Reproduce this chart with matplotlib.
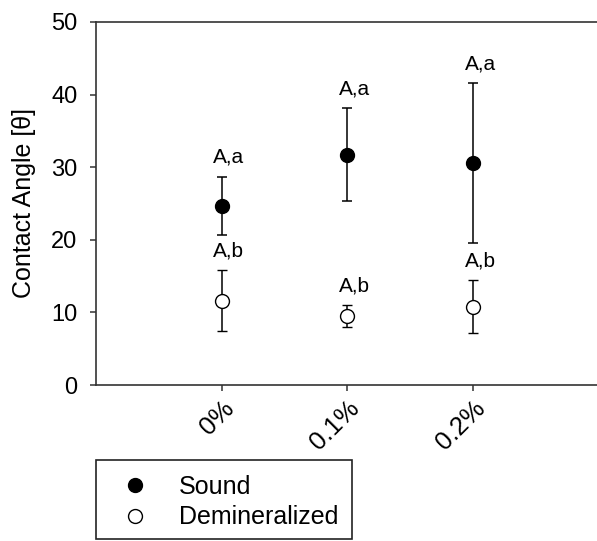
import numpy as np
import matplotlib
matplotlib.use("Agg")
import matplotlib.pyplot as plt
from matplotlib.patches import Rectangle

plt.rcParams['font.family'] = ['Liberation Sans', 'DejaVu Sans']

# data
groups = ['0%', '0.1%', '0.2%']
sound_mean = [24.7, 31.7, 30.6]
sound_err = [4.0, 6.4, 11.0]
demin_mean = [11.6, 9.5, 10.8]
demin_err = [4.2, 1.5, 3.6]
sound_letters = ['A,a', 'A,a', 'A,a']
demin_letters = ['A,b', 'A,b', 'A,b']

W, H = 597, 541
fig = plt.figure(figsize=(W / 100, H / 100), dpi=100)
# right spine falls just outside the picture, as in the reference
ax = fig.add_axes([96 / W, 1 - 385 / H, 503 / W, 363 / H])

x = np.arange(1, len(groups) + 1)
spine_col = '#333333'

ax.errorbar(x, sound_mean, yerr=sound_err, fmt='o', color='black',
            markersize=10, capsize=3.6, elinewidth=1.1, capthick=1.1,
            label='Sound', zorder=3)
ax.errorbar(x, demin_mean, yerr=demin_err, fmt='o', color='black',
            markerfacecolor='white', markeredgecolor='black', markeredgewidth=1.0,
            markersize=10, capsize=3.6, elinewidth=1.1, capthick=1.1,
            label='Demineralized', zorder=3)

for xi, m, e, t in zip(x, sound_mean, sound_err, sound_letters):
    ax.annotate(t, (xi, m + e), xytext=(5, 14), textcoords='offset points',
                ha='center', va='center', fontsize=15)
for xi, m, e, t in zip(x, demin_mean, demin_err, demin_letters):
    ax.annotate(t, (xi, m + e), xytext=(5, 14), textcoords='offset points',
                ha='center', va='center', fontsize=15)

ax.set_xlim(0, 4)
ax.set_ylim(0, 50)
ax.set_yticks(np.arange(0, 51, 10))
ax.set_xticks(x)
ax.set_xticklabels(groups, rotation=45, ha='right', rotation_mode='anchor')
ax.tick_params(axis='both', direction='out', length=4.5, width=1.1,
               color=spine_col, labelsize=17)
ax.tick_params(axis='y', pad=9)
ax.tick_params(axis='x', pad=3.5, labelsize=18.5)
for s in ax.spines.values():
    s.set_color(spine_col)
    s.set_linewidth(1.2)

ax.set_ylabel('Contact Angle [θ]', fontsize=18)
ax.yaxis.set_label_coords(-0.12, 0.5)

handles, labels = ax.get_legend_handles_labels()
handles = [h[0] for h in handles]
leg = fig.legend(handles, labels, loc='upper left',
                 bbox_to_anchor=(96 / W, 1 - 461.5 / H), borderaxespad=0,
                 fontsize=18, frameon=False,
                 handlelength=2.06, handletextpad=0.74, labelspacing=0.28,
                 borderpad=0.52)
# legend box drawn by hand: the reference frame sits tighter at the bottom
fig.patches.append(Rectangle((96 / W, 1 - 539 / H), 256 / W, 79 / H,
                             transform=fig.transFigure, fill=False,
                             edgecolor='#222222', linewidth=1.2))

fig.savefig('out.png', dpi=100)
